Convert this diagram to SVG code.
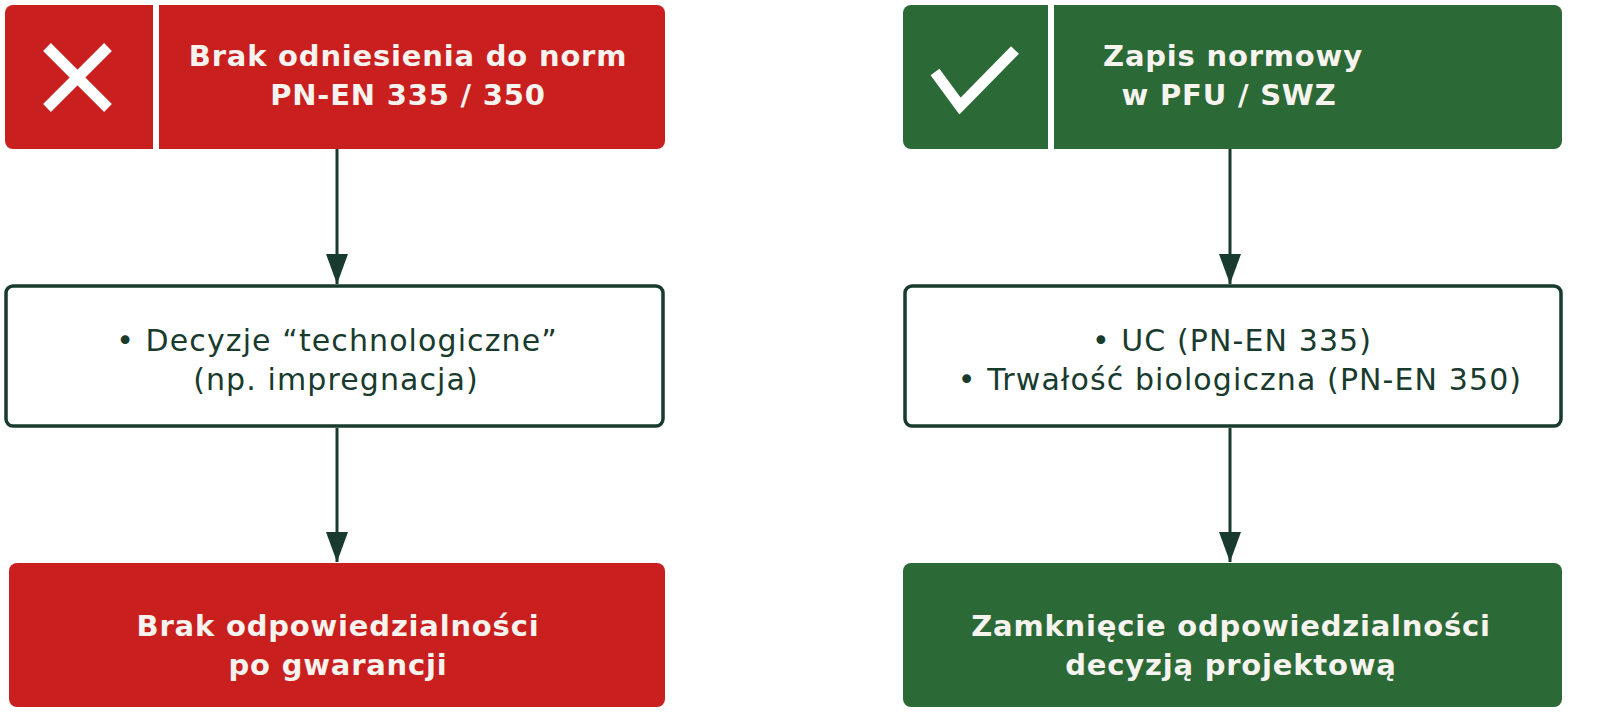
<svg xmlns="http://www.w3.org/2000/svg" width="1600" height="725" viewBox="0 0 1600 725">
<defs>
<style>
.red{fill:#c91f1f}
.green{fill:#2b6a36}
.mid{fill:#ffffff;stroke:#183b2e;stroke-width:3.5}
.hd{font-family:"DejaVu Sans","Liberation Sans",sans-serif;font-weight:700;font-size:29px;letter-spacing:0.8px;fill:#f7f3ee;text-anchor:middle}
.bd{font-family:"DejaVu Sans","Liberation Sans",sans-serif;font-weight:400;font-size:30px;letter-spacing:1.1px;fill:#183b2e;text-anchor:middle}
.div{stroke:#ffffff;stroke-width:6}
.icon{stroke:#ffffff;stroke-width:11;fill:none}
.conn{stroke:#183b2e;stroke-width:3;fill:none}
</style>
<marker id="arr" viewBox="0 0 30 22" refX="30" refY="11" markerWidth="30" markerHeight="22" markerUnits="userSpaceOnUse" orient="auto">
<path d="M0,0 L30,11 L0,22 Z" fill="#183b2e"/>
</marker>
</defs>
<rect width="1600" height="725" fill="#ffffff"/>
<g id="left-header">
<rect class="red" x="5" y="5" width="660" height="144" rx="8"/>
<line class="div" x1="156" y1="5" x2="156" y2="149"/>
<path class="icon" d="M47,47 L108,108 M108,47 L47,108"/>
<text class="hd" x="408" y="66">Brak odniesienia do norm</text>
<text class="hd" x="408" y="105">PN-EN 335 / 350</text>
</g>
<g id="right-header">
<rect class="green" x="903" y="5" width="659" height="144" rx="8"/>
<line class="div" x1="1051" y1="5" x2="1051" y2="149"/>
<path class="icon" d="M935,72 L960,106 L1015,50"/>
<text class="hd" x="1233" y="66">Zapis normowy</text>
<text class="hd" x="1229" y="105">w PFU / SWZ</text>
</g>
<g id="left-middle">
<rect class="mid" x="6" y="286" width="657" height="140" rx="7"/>
<text class="bd" x="337" y="351">• Decyzje “technologiczne”</text>
<text class="bd" x="336" y="390">(np. impregnacja)</text>
</g>
<g id="right-middle">
<rect class="mid" x="905" y="286" width="656" height="140" rx="7"/>
<text class="bd" x="1232" y="351">•  UC (PN-EN 335)</text>
<text class="bd" x="1240" y="390">• Trwałość biologiczna (PN-EN 350)</text>
</g>
<g id="left-bottom">
<rect class="red" x="9" y="563" width="656" height="144" rx="8"/>
<text class="hd" x="338" y="636">Brak odpowiedzialności</text>
<text class="hd" x="338" y="675">po gwarancji</text>
</g>
<g id="right-bottom">
<rect class="green" x="903" y="563" width="659" height="144" rx="8"/>
<text class="hd" x="1231" y="636">Zamknięcie odpowiedzialności</text>
<text class="hd" x="1231" y="675">decyzją projektową</text>
</g>
<g id="connectors">
<line class="conn" x1="337" y1="149" x2="337" y2="284" marker-end="url(#arr)"/>
<line class="conn" x1="337" y1="428" x2="337" y2="562" marker-end="url(#arr)"/>
<line class="conn" x1="1230" y1="149" x2="1230" y2="284" marker-end="url(#arr)"/>
<line class="conn" x1="1230" y1="428" x2="1230" y2="562" marker-end="url(#arr)"/>
</g>
</svg>
